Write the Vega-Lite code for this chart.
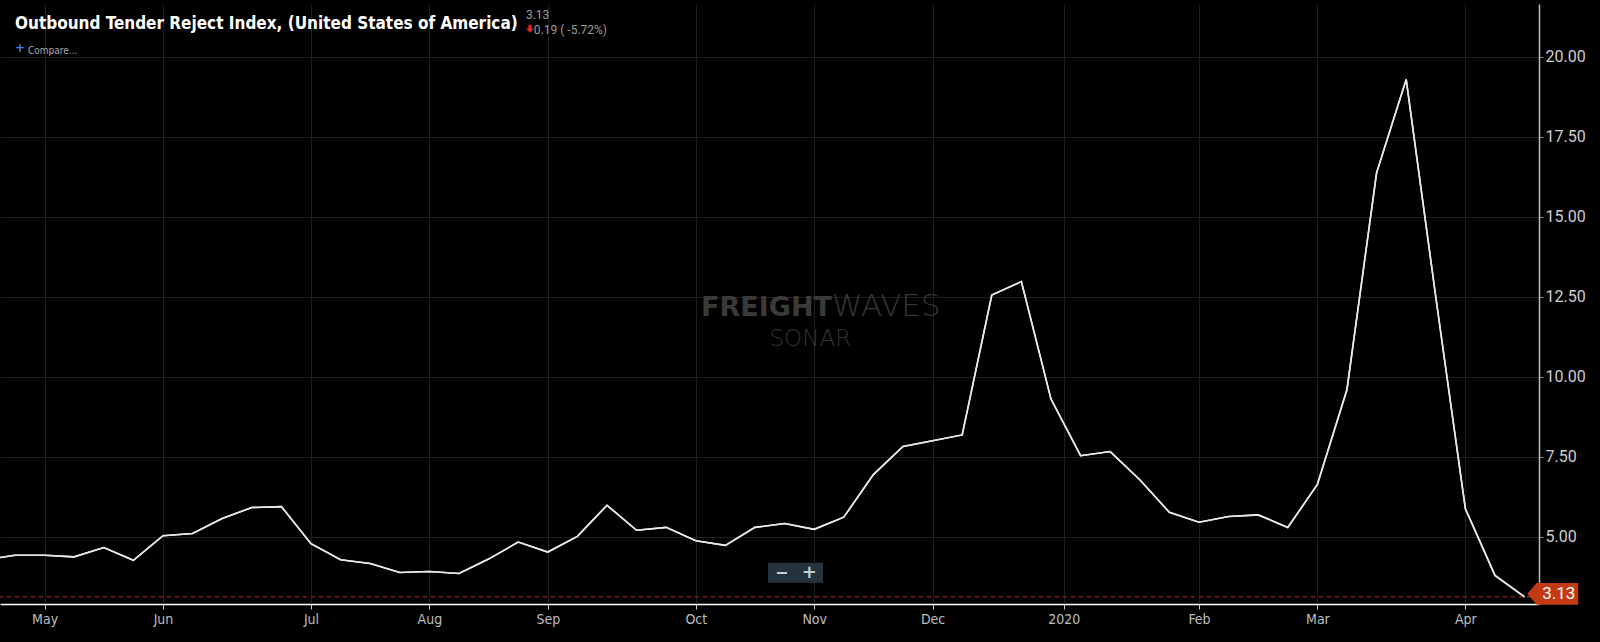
{
  "$schema": "https://vega.github.io/schema/vega-lite/v6.json",
  "width": 1539,
  "height": 600,
  "autosize": {"type": "none"},
  "padding": {"left": 0, "top": 4, "right": 61, "bottom": 38},
  "background": "#000000",
  "config": {"view": {"stroke": null}},
  "datasets": {
    "otri": [
      {"date": "2019-04-21", "value": 4.29},
      {"date": "2019-04-28", "value": 4.43},
      {"date": "2019-05-05", "value": 4.43},
      {"date": "2019-05-12", "value": 4.38},
      {"date": "2019-05-19", "value": 4.67},
      {"date": "2019-05-26", "value": 4.27},
      {"date": "2019-06-02", "value": 5.04},
      {"date": "2019-06-09", "value": 5.11},
      {"date": "2019-06-16", "value": 5.58},
      {"date": "2019-06-23", "value": 5.92},
      {"date": "2019-06-30", "value": 5.95},
      {"date": "2019-07-07", "value": 4.79},
      {"date": "2019-07-14", "value": 4.29},
      {"date": "2019-07-21", "value": 4.17},
      {"date": "2019-07-28", "value": 3.89},
      {"date": "2019-08-04", "value": 3.92},
      {"date": "2019-08-11", "value": 3.86},
      {"date": "2019-08-18", "value": 4.31},
      {"date": "2019-08-25", "value": 4.84},
      {"date": "2019-09-01", "value": 4.53},
      {"date": "2019-09-08", "value": 5.02},
      {"date": "2019-09-15", "value": 5.99},
      {"date": "2019-09-22", "value": 5.21},
      {"date": "2019-09-29", "value": 5.30},
      {"date": "2019-10-06", "value": 4.88},
      {"date": "2019-10-13", "value": 4.74},
      {"date": "2019-10-20", "value": 5.30},
      {"date": "2019-10-27", "value": 5.42},
      {"date": "2019-11-03", "value": 5.24},
      {"date": "2019-11-10", "value": 5.62},
      {"date": "2019-11-17", "value": 6.95},
      {"date": "2019-11-24", "value": 7.83},
      {"date": "2019-12-01", "value": 8.01},
      {"date": "2019-12-08", "value": 8.19},
      {"date": "2019-12-15", "value": 12.56},
      {"date": "2019-12-22", "value": 12.98},
      {"date": "2019-12-29", "value": 9.31},
      {"date": "2020-01-05", "value": 7.54},
      {"date": "2020-01-12", "value": 7.67},
      {"date": "2020-01-19", "value": 6.79},
      {"date": "2020-01-26", "value": 5.77},
      {"date": "2020-02-02", "value": 5.46},
      {"date": "2020-02-09", "value": 5.64},
      {"date": "2020-02-16", "value": 5.69},
      {"date": "2020-02-23", "value": 5.30},
      {"date": "2020-03-01", "value": 6.64},
      {"date": "2020-03-08", "value": 9.61},
      {"date": "2020-03-15", "value": 16.38},
      {"date": "2020-03-22", "value": 19.30},
      {"date": "2020-03-29", "value": 12.50},
      {"date": "2020-04-05", "value": 5.88},
      {"date": "2020-04-12", "value": 3.80},
      {"date": "2020-04-19", "value": 3.13}
    ]
  },
  "layer": [
    {
      "data": {"name": "otri"},
      "mark": {"type": "line", "color": "#e8e8e8", "strokeWidth": 1.6, "clip": true},
      "encoding": {
        "x": {
          "field": "date",
          "type": "temporal",
          "scale": {
            "type": "utc",
            "domain": [
              {"year": 2019, "month": 4, "date": 24, "hours": 10, "minutes": 53, "utc": true},
              {"year": 2020, "month": 4, "date": 22, "hours": 9, "minutes": 50, "utc": true}
            ]
          },
          "axis": {
            "title": null,
            "values": [
              {"year": 2019, "month": 5, "date": 5, "utc": true},
              {"year": 2019, "month": 6, "date": 2, "utc": true},
              {"year": 2019, "month": 7, "date": 7, "utc": true},
              {"year": 2019, "month": 8, "date": 4, "utc": true},
              {"year": 2019, "month": 9, "date": 1, "utc": true},
              {"year": 2019, "month": 10, "date": 6, "utc": true},
              {"year": 2019, "month": 11, "date": 3, "utc": true},
              {"year": 2019, "month": 12, "date": 1, "utc": true},
              {"year": 2020, "month": 1, "date": 1, "utc": true},
              {"year": 2020, "month": 2, "date": 2, "utc": true},
              {"year": 2020, "month": 3, "date": 1, "utc": true},
              {"year": 2020, "month": 4, "date": 5, "utc": true}
            ],
            "labelExpr": "utcmonth(datum.value) == 0 ? utcFormat(datum.value, '%Y') : utcFormat(datum.value, '%b')",
            "grid": true,
            "gridColor": "#1f1f1f",
            "gridWidth": 1,
            "domainColor": "#ffffff",
            "domainWidth": 1.5,
            "tickColor": "#cccccc",
            "tickSize": 5,
            "labelColor": "#bdbdbd",
            "labelFont": "DejaVu Sans Condensed, sans-serif",
            "labelFontSize": 14,
            "labelPadding": 3,
            "labelFlush": false
          }
        },
        "y": {
          "field": "value",
          "type": "quantitative",
          "scale": {"domain": [2.906, 21.656], "zero": false, "nice": false},
          "axis": {
            "title": null,
            "orient": "right",
            "values": [5, 7.5, 10, 12.5, 15, 17.5, 20],
            "format": ".2f",
            "grid": true,
            "gridColor": "#1f1f1f",
            "gridWidth": 1,
            "domainColor": "#bdbdbd",
            "domainWidth": 1.5,
            "tickColor": "#888888",
            "tickSize": 4,
            "labelColor": "#cfcfcf",
            "labelFont": "Roboto",
            "labelFontSize": 16,
            "labelPadding": 2
          }
        }
      }
    },
    {
      "data": {"values": [{}]},
      "mark": {"type": "text", "text": "FREIGHT", "align": "right", "baseline": "alphabetic", "font": "DejaVu Sans", "fontWeight": "bold", "fontSize": 27, "color": "#3a3a3a"},
      "encoding": {
        "x": {"datum": {"year": 2019, "month": 11, "date": 7, "hours": 5, "utc": true}, "type": "temporal"},
        "y": {"datum": 11.9, "type": "quantitative"}
      }
    },
    {
      "data": {"values": [{}]},
      "mark": {"type": "text", "text": "WAVES", "align": "left", "baseline": "alphabetic", "font": "DejaVu Sans", "fontWeight": 200, "fontSize": 31, "color": "#363636"},
      "encoding": {
        "x": {"datum": {"year": 2019, "month": 11, "date": 7, "hours": 5, "utc": true}, "type": "temporal"},
        "y": {"datum": 11.9, "type": "quantitative"}
      }
    },
    {
      "data": {"values": [{}]},
      "mark": {"type": "text", "text": "SONAR", "align": "center", "baseline": "alphabetic", "font": "DejaVu Sans", "fontWeight": 200, "fontSize": 23, "color": "#333333"},
      "encoding": {
        "x": {"datum": {"year": 2019, "month": 11, "date": 2, "hours": 2, "utc": true}, "type": "temporal"},
        "y": {"datum": 10.98, "type": "quantitative"}
      }
    },
    {
      "data": {"values": [{}]},
      "mark": {"type": "point", "shape": "M-1,-0.364L1,-0.364L1,0.364L-1,0.364Z", "size": 3025, "filled": true, "fill": "#25333f", "opacity": 1, "strokeWidth": 0},
      "encoding": {
        "x": {"datum": {"year": 2019, "month": 10, "date": 29, "hours": 14, "utc": true}, "type": "temporal"},
        "y": {"datum": 3.884, "type": "quantitative"}
      }
    },
    {
      "data": {"values": [{}]},
      "mark": {"type": "text", "text": "−", "align": "center", "baseline": "middle", "font": "DejaVu Sans", "fontWeight": "bold", "fontSize": 16, "color": "#c5ccd3"},
      "encoding": {
        "x": {"datum": {"year": 2019, "month": 10, "date": 26, "hours": 7, "utc": true}, "type": "temporal"},
        "y": {"datum": 3.884, "type": "quantitative"}
      }
    },
    {
      "data": {"values": [{}]},
      "mark": {"type": "text", "text": "+", "align": "center", "baseline": "middle", "font": "DejaVu Sans", "fontWeight": "bold", "fontSize": 18, "color": "#c5ccd3"},
      "encoding": {
        "x": {"datum": {"year": 2019, "month": 11, "date": 1, "hours": 20, "utc": true}, "type": "temporal"},
        "y": {"datum": 3.884, "type": "quantitative"}
      }
    },
    {
      "data": {"values": [{}]},
      "mark": {"type": "rule", "color": "#7a1f0a", "strokeWidth": 1.5, "strokeDash": [4, 4]},
      "encoding": {
        "y": {"datum": 3.13, "type": "quantitative"}
      }
    },
    {
      "data": {"name": "otri"},
      "mark": {"type": "line", "color": "#e8e8e8", "strokeWidth": 1.6, "clip": true},
      "encoding": {
        "x": {"field": "date", "type": "temporal"},
        "y": {"field": "value", "type": "quantitative"}
      }
    },
    {
      "data": {"values": [{}]},
      "mark": {"type": "point", "shape": "M-1,0L-0.63,-0.424L1,-0.424L1,0.424L-0.63,0.424Z", "size": 2601, "filled": true, "fill": "#c23a12", "opacity": 1, "strokeWidth": 0, "yOffset": -3, "clip": false},
      "encoding": {
        "x": {"datum": {"year": 2020, "month": 4, "date": 25, "hours": 16, "utc": true}, "type": "temporal"},
        "y": {"datum": 3.13, "type": "quantitative"}
      }
    },
    {
      "data": {"values": [{}]},
      "mark": {"type": "text", "text": "3.13", "align": "center", "baseline": "middle", "font": "Roboto", "fontSize": 17, "color": "#ffffff", "dx": 6, "dy": -3, "clip": false},
      "encoding": {
        "x": {"datum": {"year": 2020, "month": 4, "date": 25, "hours": 16, "utc": true}, "type": "temporal"},
        "y": {"datum": 3.13, "type": "quantitative"}
      }
    },
    {
      "data": {"values": [{}]},
      "mark": {"type": "text", "text": "Outbound Tender Reject Index, (United States of America)", "align": "left", "baseline": "alphabetic", "font": "DejaVu Sans Condensed, sans-serif", "fontWeight": "bold", "fontSize": 17, "color": "#ffffff"},
      "encoding": {
        "x": {"datum": {"year": 2019, "month": 4, "date": 28, "utc": true}, "type": "temporal"},
        "y": {"datum": 20.88, "type": "quantitative"}
      }
    },
    {
      "data": {"values": [{}]},
      "mark": {"type": "text", "text": "3.13", "align": "left", "baseline": "alphabetic", "font": "Roboto", "fontSize": 12, "color": "#9d9d9d"},
      "encoding": {
        "x": {"datum": {"year": 2019, "month": 8, "date": 26, "hours": 20, "utc": true}, "type": "temporal"},
        "y": {"datum": 21.2, "type": "quantitative"}
      }
    },
    {
      "data": {"values": [{}]},
      "mark": {"type": "point", "shape": "M-0.4,-1L0.4,-1L0.4,-0.1L1,-0.1L0,1L-1,-0.1L-0.4,-0.1Z", "size": 64, "filled": true, "fill": "#e0262b", "opacity": 1, "strokeWidth": 0},
      "encoding": {
        "x": {"datum": {"year": 2019, "month": 8, "date": 27, "hours": 19, "utc": true}, "type": "temporal"},
        "y": {"datum": 20.88, "type": "quantitative"}
      }
    },
    {
      "data": {"values": [{}]},
      "mark": {"type": "text", "text": "0.19 ( -5.72%)", "align": "left", "baseline": "alphabetic", "font": "Roboto", "fontSize": 12, "color": "#9d9d9d"},
      "encoding": {
        "x": {"datum": {"year": 2019, "month": 8, "date": 28, "hours": 17, "utc": true}, "type": "temporal"},
        "y": {"datum": 20.73, "type": "quantitative"}
      }
    },
    {
      "data": {"values": [{}]},
      "mark": {"type": "text", "text": "+", "align": "left", "baseline": "middle", "font": "DejaVu Sans", "fontWeight": "bold", "fontSize": 12, "color": "#3b82f6"},
      "encoding": {
        "x": {"datum": {"year": 2019, "month": 4, "date": 28, "utc": true}, "type": "temporal"},
        "y": {"datum": 20.29, "type": "quantitative"}
      }
    },
    {
      "data": {"values": [{}]},
      "mark": {"type": "text", "text": "Compare...", "align": "left", "baseline": "middle", "font": "DejaVu Sans Condensed, sans-serif", "fontSize": 10, "color": "#a9a9a9"},
      "encoding": {
        "x": {"datum": {"year": 2019, "month": 5, "date": 1, "hours": 2, "utc": true}, "type": "temporal"},
        "y": {"datum": 20.2, "type": "quantitative"}
      }
    }
  ]
}
